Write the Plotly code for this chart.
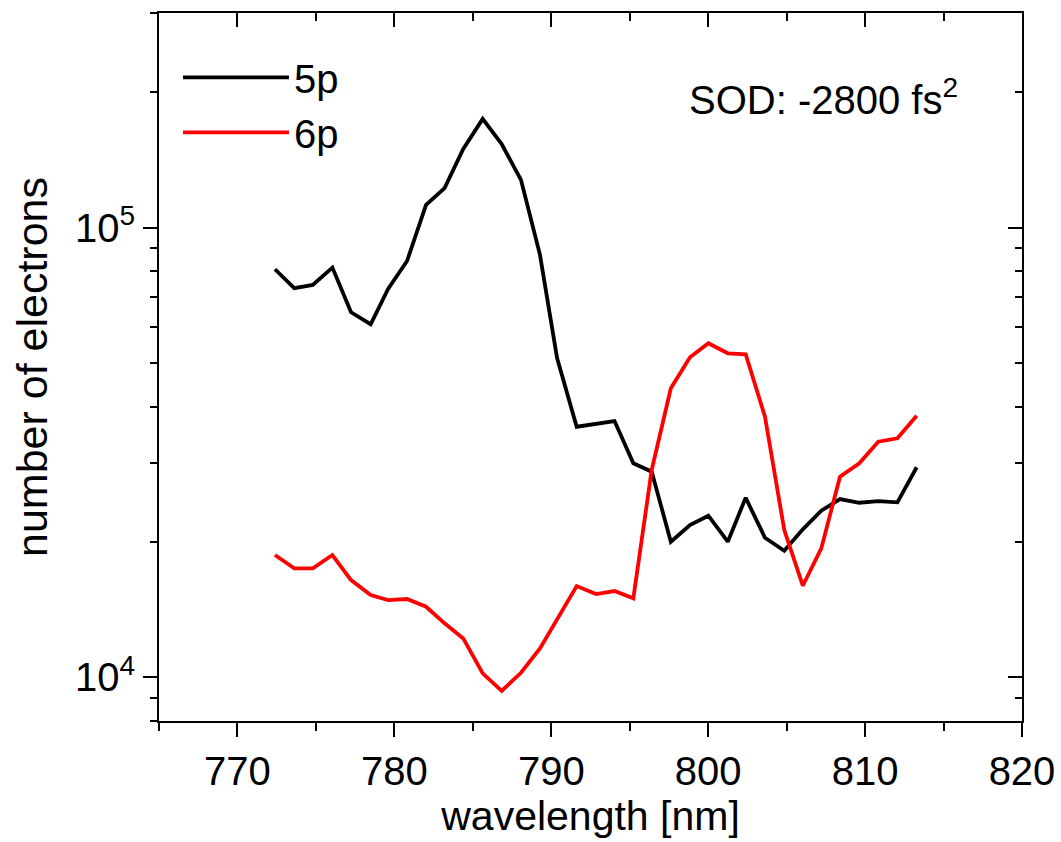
import plotly.graph_objects as go
import math

# wavelength [nm]
wavelength = [772.39, 773.62, 774.80, 776.05, 777.24, 778.49, 779.60, 780.81, 782.02, 783.20,
              784.39, 785.63, 786.84, 788.07, 789.28, 790.37, 791.62, 792.85, 794.03, 795.23,
              796.40, 797.62, 798.84, 800.01, 801.25, 802.39, 803.62, 804.85, 806.03, 807.21,
              808.40, 809.63, 810.84, 812.06, 813.29]

# number of electrons, 5p
n_5p = [80800, 73330, 74590, 81470, 64830, 60980, 73070, 84310, 112300, 122400,
        149600, 174500, 153300, 127700, 86970, 51310, 36080, 36590, 37150, 29920,
        28670, 20030, 21810, 22880, 20030, 25090, 20440, 19120, 21340, 23480,
        24920, 24450, 24660, 24500, 29320]

# number of electrons, 6p
n_6p = [18710, 17480, 17480, 18710, 16460, 15240, 14860, 14940, 14360, 13190,
        12210, 10210, 9338, 10240, 11600, 13410, 15960, 15320, 15560, 14990,
        28920, 43930, 51490, 55330, 52550, 52290, 37980, 21260, 15990, 19360,
        27940, 29920, 33420, 34010, 38190]

x_range = [765, 820]
y_range = [8000, 300000]
y_major = [1e4, 1e5]
y_major_text = ["10<sup>4</sup>", "10<sup>5</sup>"]
y_minor = [8000, 9000, 20000, 30000, 40000, 50000, 60000, 70000, 80000, 90000, 200000, 300000]

ylog = [math.log10(y_range[0]), math.log10(y_range[1])]

FONT = "Liberation Sans, Arial, sans-serif"

fig = go.Figure()
fig.add_trace(go.Scatter(x=wavelength, y=n_5p, mode="lines", name="5p",
                         line=dict(color="black", width=3.8)))
fig.add_trace(go.Scatter(x=wavelength, y=n_6p, mode="lines", name="6p",
                         line=dict(color="#ff0000", width=3.8)))
# dummy trace to activate mirrored tick axes (top / right, ticks inside)
fig.add_trace(go.Scatter(x=[None], y=[None], xaxis="x2", yaxis="y2",
                         showlegend=False, hoverinfo="skip"))

axis_common = dict(showgrid=False, zeroline=False, linecolor="black", linewidth=2,
                   tickcolor="black", tickwidth=2,
                   tickfont=dict(family=FONT, size=40, color="black"))

fig.update_layout(
    width=1061, height=842,
    margin=dict(l=159, r=39, t=13, b=121, autoexpand=False),
    paper_bgcolor="white", plot_bgcolor="white",
    font=dict(family=FONT, size=40, color="black"),
    xaxis=dict(range=x_range, tickmode="linear", tick0=770, dtick=10,
               ticks="outside", ticklen=14, showline=True, mirror=True,
               minor=dict(tickmode="linear", tick0=765, dtick=5, ticks="outside",
                          ticklen=8, tickwidth=2, tickcolor="black"),
               title=dict(text="wavelength [nm]", font=dict(family=FONT, size=41), standoff=8),
               **axis_common),
    yaxis=dict(type="log", range=ylog, tickmode="array", tickvals=y_major,
               ticktext=y_major_text,
               ticks="outside", ticklen=14, showline=True, mirror=True,
               minor=dict(tickmode="array", tickvals=y_minor, ticks="outside",
                          ticklen=7, tickwidth=2, tickcolor="black"),
               title=dict(text="number of electrons", font=dict(family=FONT, size=43), standoff=14),
               **axis_common),
    xaxis2=dict(range=x_range, overlaying="x", side="top", anchor="y",
                tickmode="linear", tick0=770, dtick=10, ticks="inside", ticklen=14,
                showticklabels=False, showline=False,
                minor=dict(tickmode="linear", tick0=765, dtick=5, ticks="inside",
                           ticklen=8, tickwidth=2, tickcolor="black"),
                showgrid=False, zeroline=False, tickcolor="black", tickwidth=2),
    yaxis2=dict(type="log", range=ylog, overlaying="y", side="right", anchor="x",
                tickmode="array", tickvals=y_major, ticks="inside", ticklen=14,
                showticklabels=False, showline=False,
                minor=dict(tickmode="array", tickvals=y_minor, ticks="inside",
                           ticklen=7, tickwidth=2, tickcolor="black"),
                showgrid=False, zeroline=False, tickcolor="black", tickwidth=2),
    legend=dict(x=0.022, y=0.955, xanchor="left", yanchor="top",
                bgcolor="rgba(0,0,0,0)", borderwidth=0,
                font=dict(family=FONT, size=40, color="black"),
                itemwidth=106, tracegroupgap=0),
    annotations=[dict(text="SOD: -2800 fs<sup>2</sup>", x=0.612, y=0.882,
                      xref="paper", yref="paper", xanchor="left", yanchor="middle",
                      showarrow=False, font=dict(family=FONT, size=40, color="black"))],
)

fig.write_html("out.html")
